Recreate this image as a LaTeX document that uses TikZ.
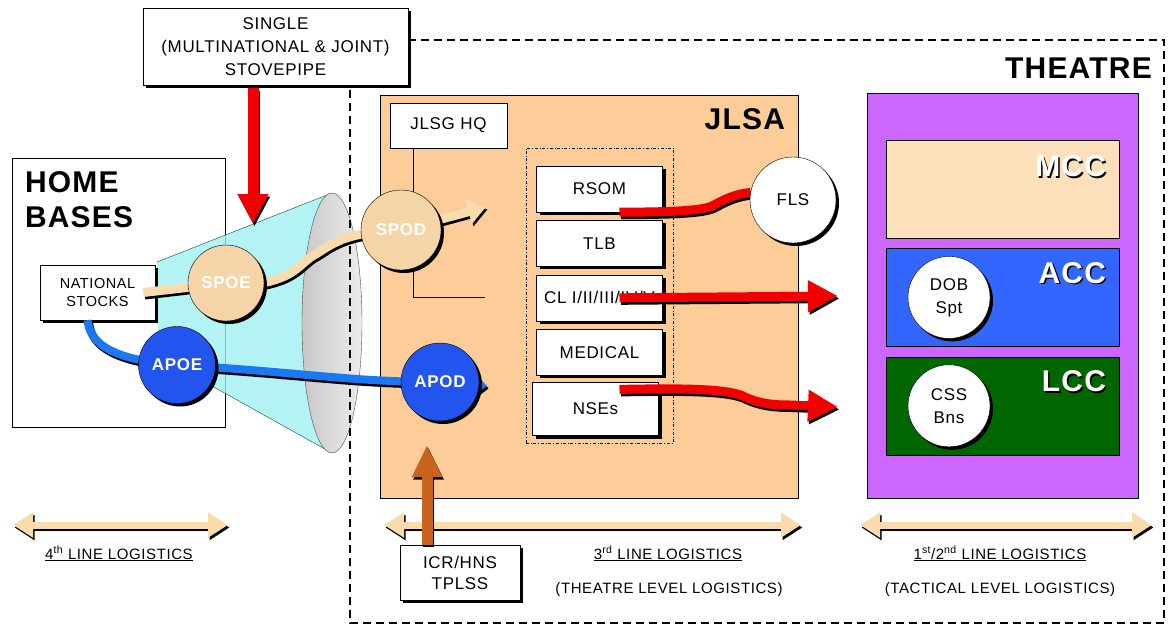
\documentclass[tikz,border=0pt]{standalone}
\usepackage{fontspec}
\setmainfont{Liberation Sans}[LetterSpace=4]
\usepackage{xcolor}
\usetikzlibrary{positioning,arrows.meta,shadows}

\definecolor{peach}{HTML}{FCCC99}
\definecolor{sand}{HTML}{F8DCAE}
\definecolor{sandcirc}{HTML}{F5D5A8}
\definecolor{mccfill}{HTML}{FCE0BC}
\definecolor{theatrepurple}{HTML}{CC66FF}
\definecolor{accblue}{HTML}{3366FF}
\definecolor{lccgreen}{HTML}{006600}
\definecolor{portblue}{HTML}{2255EE}
\definecolor{airblue}{HTML}{1A78F0}
\definecolor{conecyan}{HTML}{A0F0F0}
\definecolor{conegray}{HTML}{C8C8C8}
\definecolor{stovered}{HTML}{F00000}
\definecolor{hnsbrown}{HTML}{C8641E}

\pgfdeclarelayer{front}
\pgfsetlayers{main,front}

\newcommand{\embossed}[1]{\makebox[0pt][l]{\hspace{1.5pt}\raisebox{-1.5pt}{\color{black}#1}}#1}

\begin{document}
\begin{tikzpicture}[x=1pt, y=-1pt,
  txt/.style={font=\fontsize{17}{23}\selectfont},
  box/.style={draw, fill=white, align=center, inner sep=0pt, txt},
  shadowed/.style={drop shadow={shadow xshift=3pt, shadow yshift=-3pt,
                   fill=black, opacity=1}},
  stackbox/.style={box, shadowed, minimum width=126pt, minimum height=46pt},
  area/.style={draw, inner sep=0pt},
  biglabel/.style={font=\fontsize{30}{35}\selectfont\bfseries, inner sep=0pt},
  port/.style={circle, draw, shadowed, inner sep=0pt, minimum size=#1,
               text=white, font=\fontsize{17}{20}\selectfont\bfseries},
  cellcircle/.style={circle, draw, fill=white, shadowed, inner sep=0pt,
                     minimum size=#1, align=center, txt},
  pipeline/.style n args={3}{draw=#1, line width=#2, #3,
                   preaction={draw=black, line width=#2, #3,
                              transform canvas={shift={(1.5pt,-2.5pt)}}}},
  levelarrow/.style={pipeline={sand}{7pt}
                     {{Triangle[length=20pt,width=24pt]}-{Triangle[length=20pt,width=24pt]}}},
  levelnote/.style={font=\fontsize{15}{18}\selectfont, inner sep=0pt, anchor=base},
  theatreline/.style={draw, line width=1.6pt, dash pattern=on 8pt off 5pt}
]
  \useasboundingbox (0,0) rectangle (1168,625);

  % Home bases
  \node[area, fill=white, minimum width=213pt, minimum height=269pt] (home) at (118.5,292.5) {};
  \node[biglabel, anchor=north west, align=left] (homelbl)
    at ([xshift=13pt, yshift=-14pt]home.north west) {HOME\\BASES};

  % Stovepipe cone
  \fill[conecyan, fill opacity=0.8] (157,262) -- (332,193) -- (332,453) -- (212,386)
    -- (158,330) -- cycle;
  \draw[teal!60!black] (157,262) -- (332,193) (212,386) -- (332,453);
  \draw[black!70, left color=conegray, right color=gray!15] (332,323)
    ellipse [x radius=30, y radius=130];

  % Single stovepipe and theatre boundary
  \node[box, shadowed, minimum width=265pt, minimum height=77pt] (single) at (275.5,46.5)
    {SINGLE\\(MULTINATIONAL \& JOINT)\\STOVEPIPE};
  \draw[theatreline] (single.east |- 0,40) -- (1164,40) -- (1164,623) -- (350,623) -- (350,88);
  \node[biglabel, anchor=base east] (theatrelbl) at (1152,78) {THEATRE};

  % JLSA
  \node[area, fill=peach, minimum width=418pt, minimum height=403pt] (jlsa) at (589,296.5) {};
  \node[biglabel, anchor=base east] (jlsalbl)
    at ([xshift=-13pt, yshift=-35pt]jlsa.north east) {JLSA};
  \node[box, minimum width=117pt, minimum height=45pt] (jlsg) at (448.5,125.5) {JLSG HQ};
  \coordinate (hqend) at (485,297);
  \draw ([xshift=-35.5pt]jlsg.south) |- (hqend);

  \node[draw, dash dot, minimum width=147pt, minimum height=295pt] (cell) at (599.5,295.5) {};
  \node[stackbox, below=18pt of cell.north] (rsom) {RSOM};
  \node[stackbox, below=8pt of rsom] (tlb) {TLB};
  \node[stackbox, below=8pt of tlb] (cl) {CL I/II/III/IV/V};
  \node[stackbox, below=8pt of cl] (medical) {MEDICAL};
  \node[stackbox, below=7pt of medical, xshift=-4pt, minimum height=53pt] (nses) {NSEs};

  % Theatre components
  \node[area, fill=theatrepurple, minimum width=271pt, minimum height=405pt] (theatre)
    at (1002.5,295.5) {};
  \node[area, fill=mccfill, minimum width=233pt, minimum height=98pt,
        below=47pt of theatre.north] (mcc) {};
  \node[area, fill=accblue, minimum width=233pt, minimum height=98pt, below=10pt of mcc] (acc) {};
  \node[area, fill=lccgreen, minimum width=233pt, minimum height=98pt, below=10pt of acc] (lcc) {};
  \node[biglabel, text=white, anchor=base east] (mcclbl)
    at ([xshift=-13pt, yshift=-37pt]mcc.north east) {\embossed{MCC}};
  \node[biglabel, text=white, anchor=base east] (acclbl)
    at ([xshift=-13pt, yshift=-35pt]acc.north east) {\embossed{ACC}};
  \node[biglabel, text=white, anchor=base east] (lcclbl)
    at ([xshift=-13pt, yshift=-35pt]lcc.north east) {\embossed{LCC}};
  \node[cellcircle=82pt] (dob) at ([xshift=-53.5pt]acc.center) {DOB\\Spt};
  \node[cellcircle=82pt] (cssbns) at ([xshift=-53.5pt]lcc.center) {CSS\\Bns};

  % National stocks
  \node[box, shadowed, minimum width=115pt, minimum height=55pt,
        font=\fontsize{14.5}{19}\selectfont] (ns) at (97.5,292.5) {NATIONAL\\STOCKS};

  % Ports of embarkation and debarkation
  \begin{pgfonlayer}{front}
    \node[port=76pt, fill=sandcirc] (spoe) at (226,283) {SPOE};
    \node[port=77pt, fill=portblue] (apoe) at (177,365) {APOE};
    \node[port=80pt, fill=sandcirc] (spod) at (401,230) {SPOD};
    \node[port=78pt, fill=portblue] (apod) at (440,382) {APOD};
    \node[cellcircle=86pt] (fls) at (793,200) {FLS};
  \end{pgfonlayer}

  % Sea and air lines
  \coordinate (spodtip) at (486,207);
  \draw[pipeline={sand}{9pt}{-{Triangle[length=18pt,width=24pt]}}] ([xshift=-12pt]ns.east)
    -- (spoe.center) -- (262,283) .. controls (298,276) and (300,262) .. (316,254)
    .. controls (332,244) and (345,232) .. (spod.center) -- (spodtip);
  \coordinate (apodtip) at (487,386);
  \draw[pipeline={airblue}{8pt}{-{Triangle[length=8pt,width=14pt]}}] ([xshift=-10pt]ns.south)
    .. controls (90,345) and (115,360) .. (apoe.center)
    .. controls (300,372) and (350,382) .. (apod.center) -- (apodtip);

  % Red flows
  \coordinate (stovetip) at (253,224);
  \draw[pipeline={stovered}{11pt}{-{Triangle[length=30pt,width=29pt]}}]
    ([xshift=-22.5pt, yshift=-3pt]single.south) -- (stovetip);
  \draw[pipeline={stovered}{9pt}{}] ([xshift=20pt]rsom.south)
    .. controls (670,212) and (700,211) .. (712,206)
    .. controls (725,199) and (735,194) .. (fls.170);
  \coordinate (clend) at (838,296);
  \draw[pipeline={stovered}{9pt}{-{Triangle[length=30pt,width=30pt]}}]
    ([xshift=20pt]cl.center) -- (clend);
  \coordinate (nsesend) at (838,407);
  \draw[pipeline={stovered}{9pt}{-{Triangle[length=30pt,width=30pt]}}]
    ([xshift=24pt, yshift=-7pt]nses.north) .. controls (690,388) and (730,389) .. (745,397)
    .. controls (760,404) and (775,405) .. (790,405) -- (nsesend);

  % Lines of logistics
  \coordinate (fourthL) at (13,525);
  \coordinate (fourthR) at (228,525);
  \draw[levelarrow] (fourthL) -- (fourthR);
  \coordinate (thirdL) at (384,525);
  \coordinate (thirdR) at (801,525);
  \draw[levelarrow] (thirdL) -- (thirdR);
  \coordinate (firstL) at (860,525);
  \coordinate (firstR) at (1152,525);
  \draw[levelarrow] (firstL) -- (firstR);

  \node[levelnote] (fourthlbl) at (119,559) {\underline{4\textsuperscript{th} LINE LOGISTICS}};
  \node[levelnote] (thirdlbl) at (668,559) {\underline{3\textsuperscript{rd} LINE LOGISTICS}};
  \node[levelnote] (thirdsub) at (669,593) {(THEATRE LEVEL LOGISTICS)};
  \node[levelnote] (firstlbl) at (1000,559)
    {\underline{1\textsuperscript{st}/2\textsuperscript{nd} LINE LOGISTICS}};
  \node[levelnote] (firstsub) at (1000,593) {(TACTICAL LEVEL LOGISTICS)};

  % Host nation support
  \node[box, shadowed, minimum width=120pt, minimum height=55pt,
        font=\fontsize{17}{21}\selectfont] (icr) at (460,572.5) {ICR/HNS\\TPLSS};
  \coordinate (hnstip) at (427,445);
  \draw[pipeline={hnsbrown}{11pt}{-{Triangle[length=32pt,width=28pt]}}]
    ([xshift=-33pt]icr.north) -- (hnstip);
\end{tikzpicture}
\end{document}
